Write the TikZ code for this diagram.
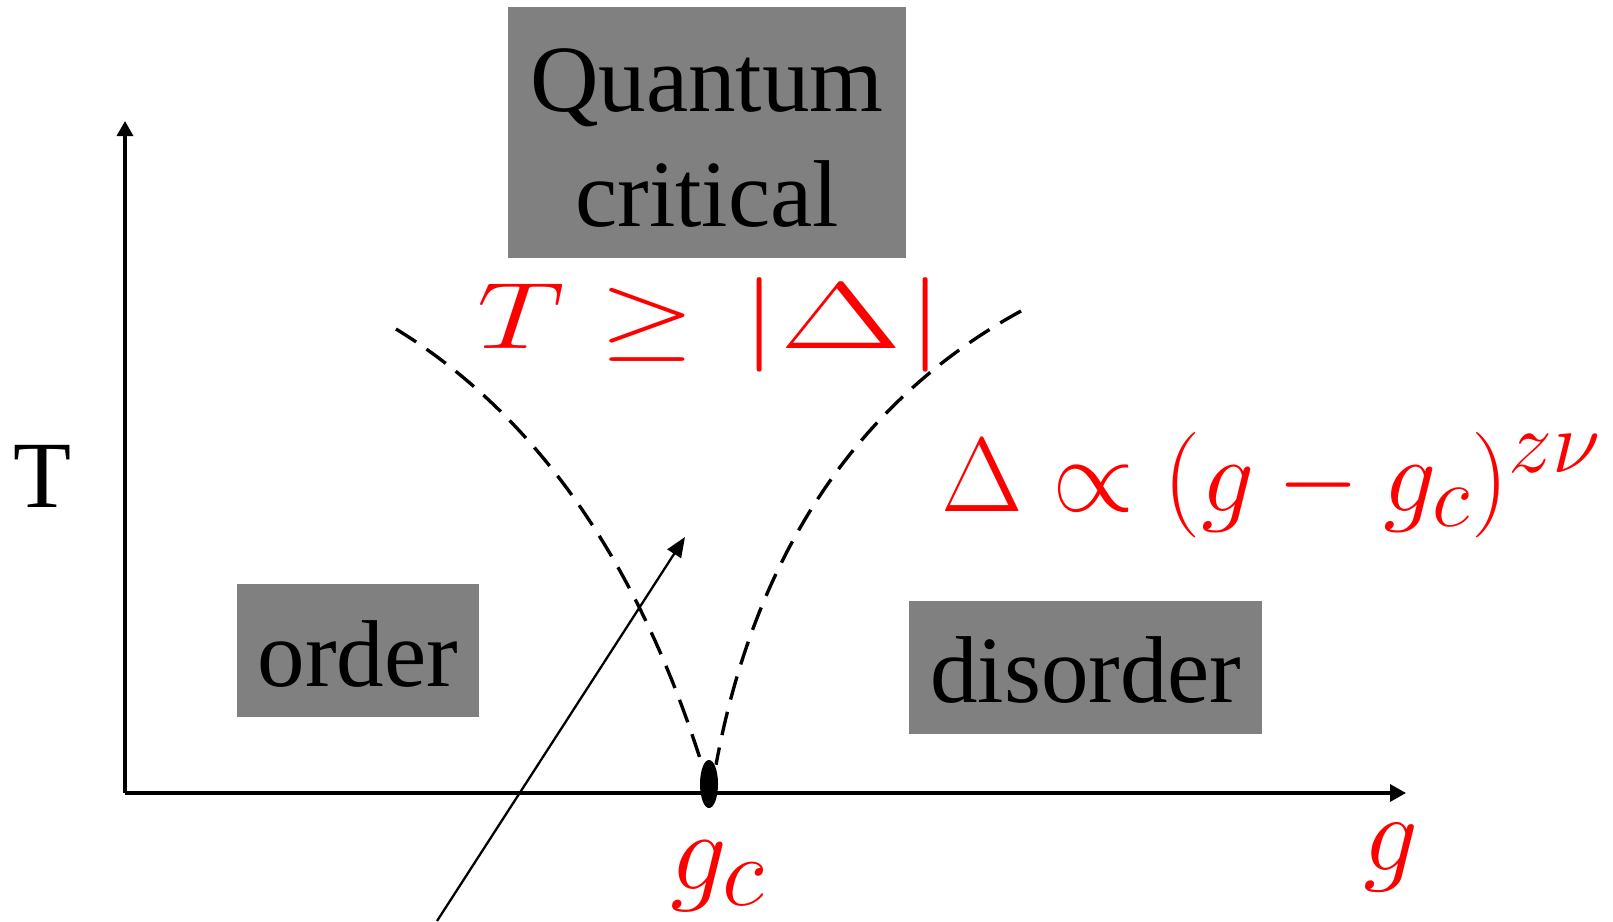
\RequirePackage{fix-cm}
\documentclass[tikz,border=0pt]{standalone}
\usepackage{fontspec}
\setmainfont{Liberation Serif}
\usepackage{amsmath}
\usetikzlibrary{arrows.meta, shapes.geometric, positioning}
\definecolor{regiongray}{RGB}{128,128,128}
\DeclareMathSizes{30}{30}{25}{19}
\DeclareMathSizes{32}{32}{28}{22}

\begin{document}
\begin{tikzpicture}[x=0.01cm, y=-0.01cm, line width=0.95pt]

\tikzstyle{region} = [rectangle, fill=regiongray, inner sep=0pt, text centered, align=center, text depth=0pt, font=\fontsize{27}{32.7}\selectfont]
\tikzstyle{redmath} = [text=red, inner sep=0pt]
\tikzstyle{crossover} = [dash pattern=on 6.8pt off 3.6pt]

\useasboundingbox (0,0) rectangle (1613,921);

% Nodes
\node[region, text height=53.4pt, minimum width=3.98cm, minimum height=2.51cm] (qc) at (707,132.5) {Quantum\\critical};
\node[region, text height=20.2pt, minimum width=2.41cm, minimum height=1.33cm] (order) at (358,650.6) {order};
\node[region, text height=20.2pt, minimum width=3.53cm, minimum height=1.33cm] (disorder) at (1085.8,667.1) {disorder};
\node[inner sep=0pt, font=\fontsize{27}{31}\selectfont] (tlabel) at (42,476) {T};
\node[ellipse, fill=black, inner sep=0pt, minimum width=0.18cm, minimum height=0.48cm] (qcp) at (709,784) {};

\node[redmath, anchor=base west, font=\fontsize{28}{30}\selectfont] (gap) at (476,348) {\scalebox{1.25}[0.96]{$T\geq\mskip2mu|\mskip0.5mu\mathord{\scalebox{1.28}[1]{$\Delta$}}\mskip1mu|$}};
\node[redmath, anchor=base west, font=\fontsize{30}{33}\selectfont] (scaling) at (940,511) {$\Delta\propto(g-g_c)^{z\nu}$};
\node[redmath, anchor=base, font=\fontsize{32}{34}\selectfont] (gclabel) at (718,889) {$g_c$};
\node[redmath, anchor=base, font=\fontsize{31}{34}\selectfont] (glabel) at (1391,870) {$g$};

\coordinate (origin) at (125,793);
\coordinate (tmax) at (125,121);
\coordinate (gmax) at (1406,793);
\coordinate (lefttop) at (396,329);
\coordinate (righttop) at (1021,311);
\coordinate (pathstart) at (437,921);
\coordinate (pathend) at (685,537);

% Connections
\draw[-{Triangle[length=0.15cm, width=0.16cm]}] (origin) -- (tmax);
\draw[-{Triangle[length=0.16cm, width=0.17cm]}] (origin) -- (gmax);
\draw[crossover] (lefttop) .. controls (560,430) and (650,600) .. (qcp.110);
\draw[crossover] (righttop) .. controls (840,410) and (750,580) .. (qcp.70);
\draw[line width=0.65pt, -{Triangle[length=0.2cm, width=0.16cm]}] (pathstart) -- (pathend);

\end{tikzpicture}
\end{document}
